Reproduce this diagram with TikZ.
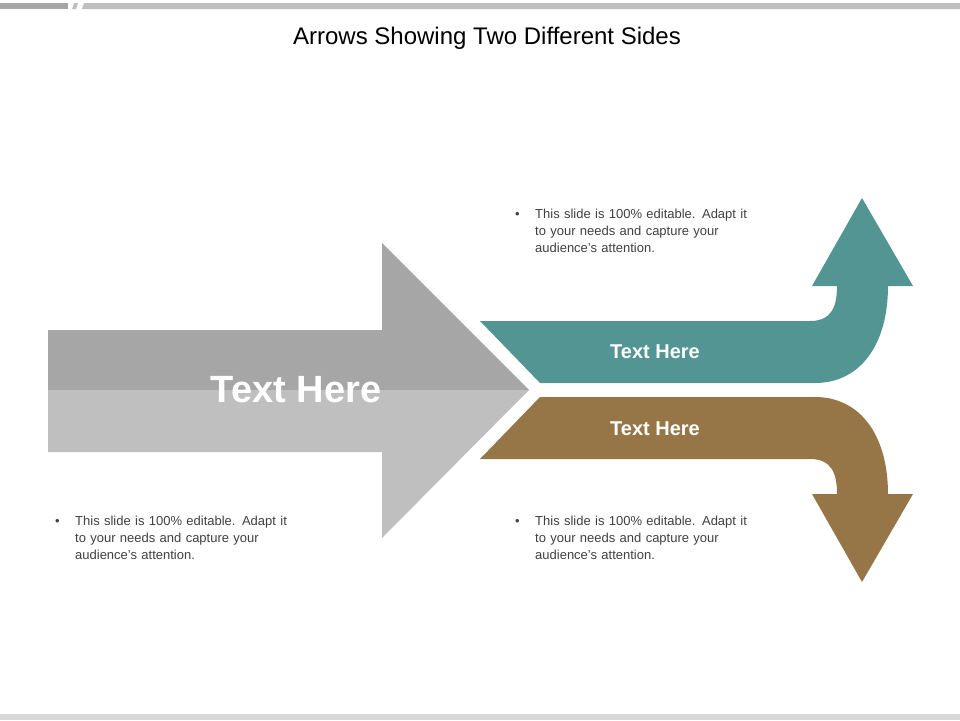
\documentclass[tikz,border=0pt]{standalone}
\usepackage{fontspec}
\setmainfont{Liberation Sans}
\usepackage{xcolor}
\definecolor{darkgray}{HTML}{A6A6A6}
\definecolor{lightgray}{HTML}{BFBFBF}
\definecolor{teal}{HTML}{529592}
\definecolor{bronze}{HTML}{967646}
\definecolor{bodytext}{HTML}{404040}
\tikzset{
  bigtext/.style={text=white,font=\fontsize{38}{44}\selectfont\bfseries},
  armtext/.style={text=white,font=\fontsize{20}{24}\selectfont\bfseries},
  note/.style={text=bodytext,align=left,anchor=north west,inner sep=0pt,
               text width=250pt,font=\fontsize{13}{17}\selectfont}
}
\begin{document}
\begin{tikzpicture}[x=1pt,y=-1pt]
\useasboundingbox (0,0) rectangle (960,720);
% top and bottom bars
\fill[darkgray] (0,3) rectangle (68,9);
\fill[lightgray] (84,3) -- (960,3) -- (960,9) -- (82,9) -- cycle;
\fill[lightgray] (74,3) -- (78,3) -- (76,9) -- (72,9) -- cycle;
\fill[lightgray!60] (0,714) rectangle (960,720);
\node (title) at (487,38) {\fontsize{24}{28}\selectfont Arrows Showing Two Different Sides};

% grey arrow
\fill[darkgray] (48,330) -- (382,330) -- (382,243) -- (529,390) -- (48,390) -- cycle;
\fill[lightgray] (48,390) -- (529,390) -- (382,538) -- (382,452) -- (48,452) -- cycle;
\node[bigtext] (main) at (296,390) {Text Here};

% teal arm
\fill[teal] (480,321) -- (810,321) .. controls (832,321) and (837,306) .. (837,286)
  -- (812,286) -- (862,198) -- (913,286) -- (888,286)
  .. controls (888,345) and (860,383) .. (815,383) -- (540,383) -- cycle;
\node[armtext] (up) at (655,352) {Text Here};

% bronze arm
\fill[bronze] (480,459) -- (810,459) .. controls (832,459) and (837,474) .. (837,494)
  -- (812,494) -- (862,582) -- (913,494) -- (888,494)
  .. controls (888,435) and (860,397) .. (815,397) -- (540,397) -- cycle;
\node[armtext] (down) at (655,429) {Text Here};

% notes
\node[note] (noteup) at (515,209) {\makebox[20pt][l]{\textbullet}This slide is 100\% editable. Adapt it\\\hspace*{20pt}to your needs and capture your\\\hspace*{20pt}audience's attention.};
\node[note] (notedown) at (515,516) {\makebox[20pt][l]{\textbullet}This slide is 100\% editable. Adapt it\\\hspace*{20pt}to your needs and capture your\\\hspace*{20pt}audience's attention.};
\node[note] (noteleft) at (55,516) {\makebox[20pt][l]{\textbullet}This slide is 100\% editable. Adapt it\\\hspace*{20pt}to your needs and capture your\\\hspace*{20pt}audience's attention.};
\end{tikzpicture}
\end{document}
